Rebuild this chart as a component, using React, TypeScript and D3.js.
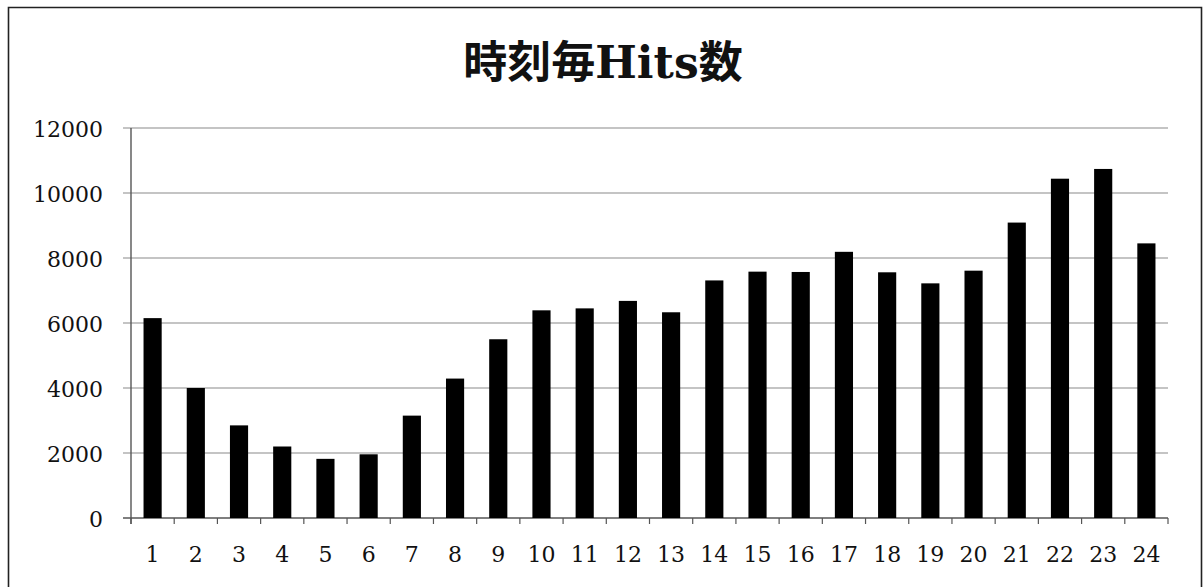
import React from "react";
import * as d3 from "d3";

const hours: string[] = ["1","2","3","4","5","6","7","8","9","10","11","12","13","14","15","16","17","18","19","20","21","22","23","24"];
const hits: number[] = [6150, 4000, 2850, 2200, 1820, 1960, 3150, 4290, 5500, 6390, 6450, 6680, 6330, 7310, 7580, 7570, 8190, 7560, 7220, 7610, 9090, 10440, 10740, 8450];
const yTicks: number[] = [0, 2000, 4000, 6000, 8000, 10000, 12000];
const title = "時刻毎Hits数";

export default function App() {
  const W = 1203, H = 587;
  const left = 131, right = 1168, top = 128, bottom = 518;
  const x = d3.scaleBand<string>().domain(hours).range([left, right]).paddingInner(0.58).paddingOuter(0.29);
  const xOuter = d3.scaleBand<string>().domain(hours).range([left, right]);
  const y = d3.scaleLinear().domain([0, 12000]).range([bottom, top]);
  const font = "'DejaVu Serif', 'Noto Sans CJK JP', serif";
  const tickXs = hours.map((h) => xOuter(h) as number).concat([right]);
  return (
    <svg width={W} height={H} style={{ position: "absolute", left: 0, top: 0, background: "#fff" }}>
      <rect x={0} y={0} width={W} height={H} fill="#fff" />
      <path d={`M8.5,${H + 5} V7.5 H1201.5 V${H + 5}`} fill="none" stroke="#222" strokeWidth={1.6} />
      <text x={603} y={78} textAnchor="middle" fontFamily={font} fontWeight="bold" fontSize={44} fill="#111">{title}</text>
      {yTicks.map((t) => (
        <g key={t}>
          {t > 0 && <line x1={123} x2={right} y1={y(t)} y2={y(t)} stroke="#8a8a8a" strokeWidth={1.2} />}
          <text x={103} y={y(t) + 9} textAnchor="end" fontFamily={font} fontSize={22} fill="#111">{t}</text>
        </g>
      ))}
      <line x1={left} x2={left} y1={top} y2={bottom + 6} stroke="#555" strokeWidth={1.4} />
      <line x1={123} x2={right} y1={bottom} y2={bottom} stroke="#555" strokeWidth={1.4} />
      {tickXs.map((tx, i) => (
        <line key={i} x1={tx} x2={tx} y1={bottom} y2={bottom + 6} stroke="#555" strokeWidth={1.2} />
      ))}
      {hours.map((h, i) => (
        <rect key={h} x={x(h)} y={y(hits[i])} width={x.bandwidth()} height={bottom - y(hits[i])} fill="#000" />
      ))}
      {hours.map((h) => (
        <text key={h} x={(xOuter(h) as number) + xOuter.bandwidth() / 2} y={562} textAnchor="middle" fontFamily={font} fontSize={22} fill="#111">{h}</text>
      ))}
    </svg>
  );
}
